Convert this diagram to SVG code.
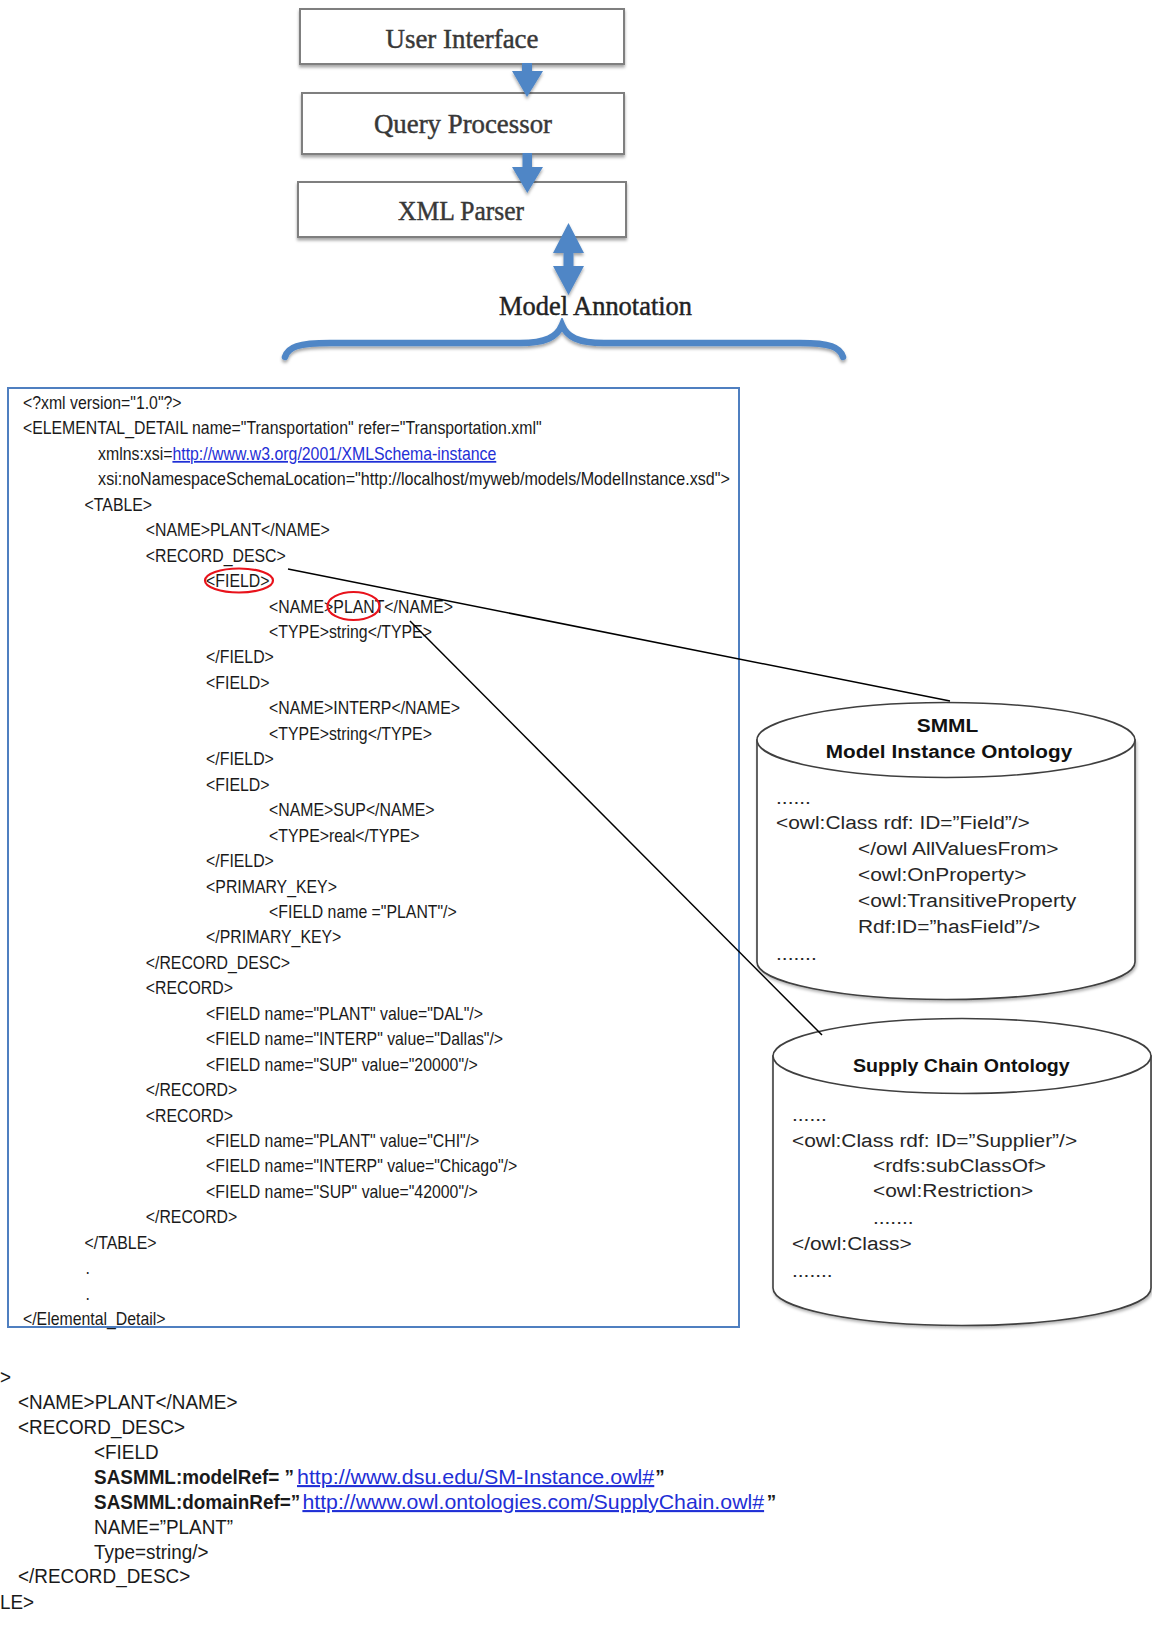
<svg xmlns="http://www.w3.org/2000/svg" width="1152" height="1639" viewBox="0 0 1152 1639">
<defs>
<filter id="sh" x="-10%" y="-20%" width="120%" height="160%">
<feDropShadow dx="0" dy="2.5" stdDeviation="1.8" flood-color="#000" flood-opacity="0.35"/>
</filter>
<filter id="sh2" x="-10%" y="-10%" width="120%" height="130%">
<feDropShadow dx="1" dy="2" stdDeviation="1.5" flood-color="#000" flood-opacity="0.3"/>
</filter>
<style>
.box{fill:#fff;stroke:#7f7f7f;stroke-width:2}
.tt{font-family:"Liberation Serif","Times New Roman",serif;font-size:27px;fill:#383838;stroke:#383838;stroke-width:0.45;text-anchor:middle}
.arr{fill:#4f86c6}
.brace{fill:none;stroke:#4f86c6;stroke-width:6.5;stroke-linecap:round}
.frame{fill:#fff;stroke:#4f7fc0;stroke-width:2}
.code{font-family:"Liberation Sans",Arial,sans-serif;font-size:17.6px;fill:#1a1a1a}
.bot{font-family:"Liberation Sans",Arial,sans-serif;font-size:21px;fill:#1a1a1a}
.b{font-weight:bold}
.link{fill:#1f2fd6;text-decoration:underline}
.red{fill:none;stroke:#e8121b;stroke-width:2.2}
.cyl{fill:#fff;stroke:#3f3f3f;stroke-width:1.6}
.ct{font-family:"Liberation Sans",Arial,sans-serif;font-size:19px;fill:#262626}
.ctb{font-weight:bold;text-anchor:middle;fill:#111}
.conn{stroke:#000;stroke-width:1.5;fill:none}
</style>
</defs>
<rect width="1152" height="1639" fill="#fff"/>

<g id="node-user-interface">
<rect class="box" x="300" y="9" width="324" height="55" filter="url(#sh)"/>
<text class="tt" x="462" y="48" textLength="153" lengthAdjust="spacingAndGlyphs">User Interface</text>
</g>
<g id="node-query-processor">
<rect class="box" x="302" y="93" width="322" height="61" filter="url(#sh)"/>
<text class="tt" x="463" y="133" textLength="178" lengthAdjust="spacingAndGlyphs">Query Processor</text>
</g>
<g id="node-xml-parser">
<rect class="box" x="298" y="182" width="328" height="55" filter="url(#sh)"/>
<text class="tt" x="461" y="220" textLength="126" lengthAdjust="spacingAndGlyphs">XML Parser</text>
</g>
<g id="node-model-annotation">
<text class="tt" x="595.5" y="315" font-size="24" textLength="193" lengthAdjust="spacingAndGlyphs" style="fill:#222;stroke:#222">Model Annotation</text>
<path class="brace" filter="url(#sh)" d="M285 357 C288 347 298 343 330 343 L520 343 C546 343 557 337 562 325 C567 337 578 343 604 343 L800 343 C830 343 840 347 843 357"/>
</g>

<g id="node-xml-document">
<rect class="frame" x="8" y="388" width="731" height="939"/>
<g class="code" transform="scale(0.9,1)">
<text x="25.5" y="409">&lt;?xml version="1.0"?&gt;</text>
<text x="25.5" y="434.5">&lt;ELEMENTAL_DETAIL name="Transportation" refer="Transportation.xml"</text>
<text x="109" y="459.9">xmlns:xsi=<tspan class="link">http://www.w3.org/2001/XMLSchema-instance</tspan></text>
<text x="109" y="485.4" textLength="702" lengthAdjust="spacingAndGlyphs">xsi:noNamespaceSchemaLocation="http://localhost/myweb/models/ModelInstance.xsd"&gt;</text>
<text x="94" y="510.8">&lt;TABLE&gt;</text>
<text x="162" y="536.3">&lt;NAME&gt;PLANT&lt;/NAME&gt;</text>
<text x="162" y="561.7">&lt;RECORD_DESC&gt;</text>
<text x="229" y="587.2">&lt;FIELD&gt;</text>
<text x="299" y="612.6">&lt;NAME&gt;PLANT&lt;/NAME&gt;</text>
<text x="299" y="638.1">&lt;TYPE&gt;string&lt;/TYPE&gt;</text>
<text x="229" y="663.5">&lt;/FIELD&gt;</text>
<text x="229" y="689">&lt;FIELD&gt;</text>
<text x="299" y="714.4">&lt;NAME&gt;INTERP&lt;/NAME&gt;</text>
<text x="299" y="739.9">&lt;TYPE&gt;string&lt;/TYPE&gt;</text>
<text x="229" y="765.3">&lt;/FIELD&gt;</text>
<text x="229" y="790.8">&lt;FIELD&gt;</text>
<text x="299" y="816.2">&lt;NAME&gt;SUP&lt;/NAME&gt;</text>
<text x="299" y="841.7">&lt;TYPE&gt;real&lt;/TYPE&gt;</text>
<text x="229" y="867.1">&lt;/FIELD&gt;</text>
<text x="229" y="892.6">&lt;PRIMARY_KEY&gt;</text>
<text x="299" y="918">&lt;FIELD name ="PLANT"/&gt;</text>
<text x="229" y="943.5">&lt;/PRIMARY_KEY&gt;</text>
<text x="162" y="968.9">&lt;/RECORD_DESC&gt;</text>
<text x="162" y="994.4">&lt;RECORD&gt;</text>
<text x="229" y="1019.8">&lt;FIELD name="PLANT" value="DAL"/&gt;</text>
<text x="229" y="1045.3">&lt;FIELD name="INTERP" value="Dallas"/&gt;</text>
<text x="229" y="1070.7">&lt;FIELD name="SUP" value="20000"/&gt;</text>
<text x="162" y="1096.2">&lt;/RECORD&gt;</text>
<text x="162" y="1121.6">&lt;RECORD&gt;</text>
<text x="229" y="1147.1">&lt;FIELD name="PLANT" value="CHI"/&gt;</text>
<text x="229" y="1172.5">&lt;FIELD name="INTERP" value="Chicago"/&gt;</text>
<text x="229" y="1198">&lt;FIELD name="SUP" value="42000"/&gt;</text>
<text x="162" y="1223.4">&lt;/RECORD&gt;</text>
<text x="94" y="1248.9">&lt;/TABLE&gt;</text>
<text x="95" y="1274.3">.</text>
<text x="95" y="1299.8">.</text>
<text x="25.5" y="1325.2">&lt;/Elemental_Detail&gt;</text>
</g>
<ellipse class="red" cx="239" cy="580.5" rx="34" ry="12"/>
<ellipse class="red" cx="353.5" cy="606" rx="26" ry="14"/>
</g>

<g id="node-smml-ontology">
<path class="cyl" filter="url(#sh2)" d="M757 740 L757 962 A189 37.5 0 0 0 1135 962 L1135 740 Z"/>
<ellipse class="cyl" cx="946" cy="740" rx="189" ry="37.5"/>
<g class="ct" transform="scale(1.1,1)">
<text class="ctb" x="861.4" y="732">SMML</text>
<text class="ctb" x="862.7" y="758" textLength="224" lengthAdjust="spacingAndGlyphs">Model Instance Ontology</text>
<text x="705.5" y="804">......</text>
<text x="705.5" y="829">&lt;owl:Class rdf: ID=”Field”/&gt;</text>
<text x="780" y="855">&lt;/owl AllValuesFrom&gt;</text>
<text x="780" y="881">&lt;owl:OnProperty&gt;</text>
<text x="780" y="907.5">&lt;owl:TransitiveProperty</text>
<text x="780" y="933.5">Rdf:ID=”hasField”/&gt;</text>
<text x="705.5" y="960">.......</text>
</g>
</g>

<g id="node-supply-chain-ontology">
<path class="cyl" filter="url(#sh2)" d="M773 1056 L773 1288 A189 37.5 0 0 0 1151 1288 L1151 1056 Z"/>
<ellipse class="cyl" cx="962" cy="1056" rx="189" ry="37.5"/>
<g class="ct" transform="scale(1.1,1)">
<text class="ctb" x="874" y="1072" textLength="197" lengthAdjust="spacingAndGlyphs">Supply Chain Ontology</text>
<text x="720" y="1121">......</text>
<text x="720" y="1147">&lt;owl:Class rdf: ID=”Supplier”/&gt;</text>
<text x="793.6" y="1172">&lt;rdfs:subClassOf&gt;</text>
<text x="793.6" y="1197.5">&lt;owl:Restriction&gt;</text>
<text x="793.6" y="1224">.......</text>
<text x="720" y="1250">&lt;/owl:Class&gt;</text>
<text x="720" y="1277">.......</text>
</g>
</g>

<g id="node-annotated-xml">
<g class="bot" transform="scale(0.9,1)">
<text x="0" y="1384">&gt;</text>
<text x="20" y="1409">&lt;NAME&gt;PLANT&lt;/NAME&gt;</text>
<text x="20" y="1434">&lt;RECORD_DESC&gt;</text>
<text x="104.5" y="1459">&lt;FIELD</text>
<text class="b" x="104.5" y="1484">SASMML:modelRef= ”</text>
<text class="link" x="330" y="1484" textLength="397" lengthAdjust="spacingAndGlyphs">http://www.dsu.edu/SM-Instance.owl#</text>
<text class="b" x="728" y="1484">”</text>
<text class="b" x="104.5" y="1509">SASMML:domainRef=”</text>
<text class="link" x="336" y="1509" textLength="513" lengthAdjust="spacingAndGlyphs">http://www.owl.ontologies.com/SupplyChain.owl#</text>
<text class="b" x="852" y="1509">”</text>
<text x="104.5" y="1534">NAME=”PLANT”</text>
<text x="104.5" y="1559">Type=string/&gt;</text>
<text x="20" y="1583">&lt;/RECORD_DESC&gt;</text>
<text x="0" y="1609">LE&gt;</text>
</g>
</g>

<g id="connectors">
<g filter="url(#sh)">
<path class="arr" d="M522 63 H532 V71 H543 L527 97 L512 71 H522 Z"/>
<path class="arr" d="M522.5 153 H532 V167 H543 L527.3 193 L512 167 H522.5 Z"/>
<path class="arr" d="M568.5 223 L584 253 H573.5 V266 H584 L568.5 295 L553 266 H563.5 V253 H553 Z"/>
</g>
<line class="conn" x1="288" y1="569" x2="950" y2="701"/>
<line class="conn" x1="410" y1="621" x2="822" y2="1035"/>
</g>
</svg>
